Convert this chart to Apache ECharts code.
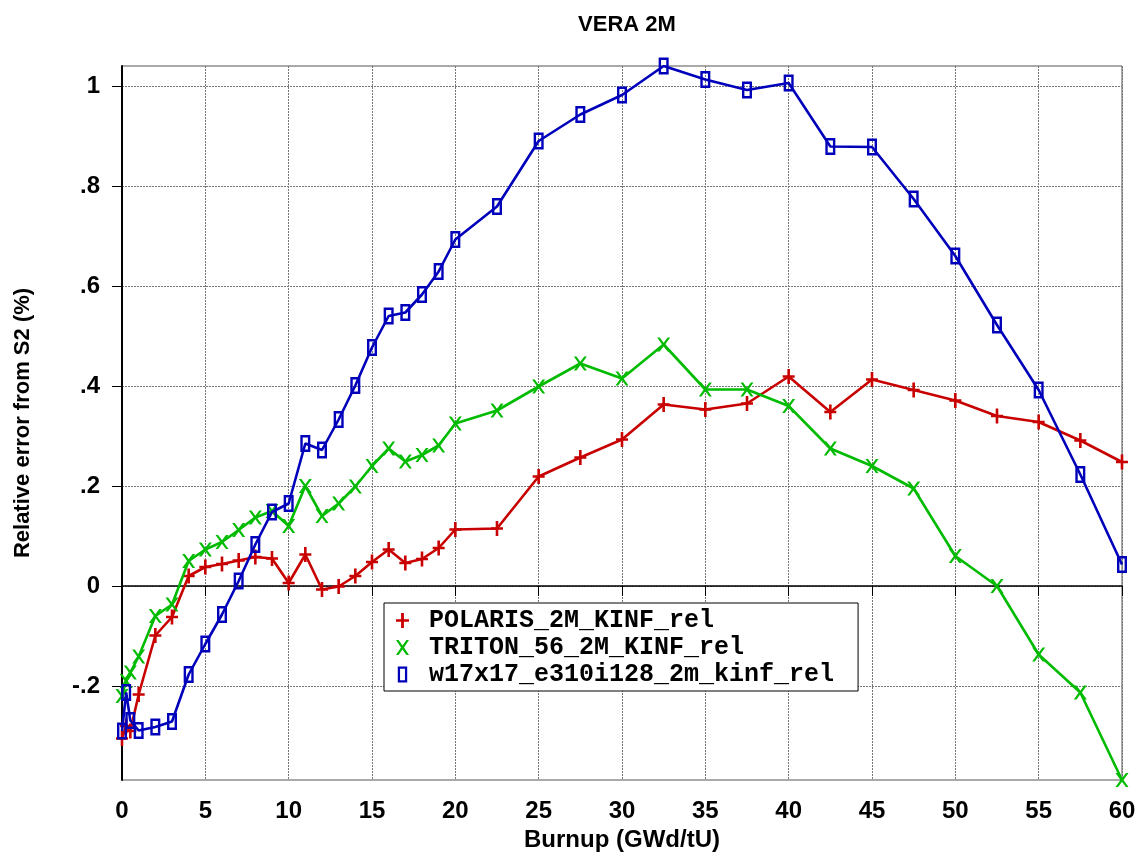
<!DOCTYPE html>
<html>
<head>
<meta charset="utf-8">
<script src="https://cdn.jsdelivr.net/npm/echarts@6/dist/echarts.min.js"></script>
<style>html,body{margin:0;padding:0;background:#fff}#c{width:1142px;height:858px}</style>
</head>
<body>
<div id="c"></div>
<script>
const burnup = [0, 0.25, 0.5, 1, 2, 3, 4, 5, 6, 7, 8, 9, 10, 11, 12, 13, 14, 15, 16, 17, 18, 19, 20,
  22.5, 25, 27.5, 30, 32.5, 35, 37.5, 40, 42.5, 45, 47.5, 50, 52.5, 55, 57.5, 60];
const polaris = [-0.305, -0.28, -0.29, -0.217, -0.099, -0.062, 0.020, 0.038, 0.044, 0.051, 0.058, 0.055, 0.006, 0.063, -0.007, -0.001, 0.020, 0.048, 0.073, 0.046, 0.054, 0.076, 0.113,
  0.115, 0.219, 0.257, 0.293, 0.363, 0.353, 0.365, 0.419, 0.348, 0.413, 0.392, 0.371, 0.340, 0.328, 0.291, 0.248];
const triton = [-0.22, -0.19, -0.173, -0.141, -0.060, -0.037, 0.050, 0.073, 0.088, 0.112, 0.137, 0.150, 0.120, 0.200, 0.140, 0.165, 0.199, 0.240, 0.275, 0.249, 0.262, 0.281, 0.325,
  0.351, 0.399, 0.445, 0.415, 0.483, 0.393, 0.393, 0.360, 0.275, 0.240, 0.195, 0.060, 0.0, -0.137, -0.213, -0.388];
const w17 = [-0.29, -0.213, -0.269, -0.289, -0.282, -0.271, -0.177, -0.116, -0.057, 0.010, 0.083, 0.148, 0.165, 0.285, 0.272, 0.333, 0.401, 0.477, 0.540, 0.547, 0.583, 0.629, 0.693,
  0.759, 0.890, 0.943, 0.982, 1.040, 1.013, 0.992, 1.006, 0.879, 0.878, 0.774, 0.660, 0.522, 0.392, 0.223, 0.043];
const seriesNames = ['POLARIS_2M_KINF_rel', 'TRITON_56_2M_KINF_rel', 'w17x17_e310i128_2m_kinf_rel'];
const xTicks = [0, 5, 10, 15, 20, 25, 30, 35, 40, 45, 50, 55, 60];
const yTickVals = [-0.2, 0, 0.2, 0.4, 0.6, 0.8, 1];
const yTickLabels = ['-.2', '0', '.2', '.4', '.6', '.8', '1'];

const colors = ['#c80000', '#00bb00', '#0000bb'];
const plusPath = 'path://M-1.3,-7L1.3,-7L1.3,-1.1L6,-1.1L6,1.1L1.3,1.1L1.3,7L-1.3,7L-1.3,1.1L-6,1.1L-6,-1.1L-1.3,-1.1Z';
const xPath = 'path://M-6,-7L-3.6,-7L0,-1.8L3.6,-7L6,-7L1.4,0L6,7L3.6,7L0,1.8L-3.6,7L-6,7L-1.4,0Z';
const boxPath = 'path://M-5,-8.5L5,-8.5L5,8.5L-5,8.5Z M-2.6,-6.1L-2.6,6.1L2.6,6.1L2.6,-6.1Z';
const symbols = [plusPath, xPath, boxPath];
const symSizes = [[12, 15], [13, 14], [10, 17]];
const allVals = [polaris, triton, w17];
const yMin = Math.min(...allVals.flat());
const yMax = Math.max(...allVals.flat());

const font = "'Liberation Sans Narrow', 'Liberation Sans', Arial, sans-serif";
const chart = echarts.init(document.getElementById('c'));
const series = allVals.map((vals, k) => ({
  name: seriesNames[k],
  type: 'line',
  data: burnup.map((x, i) => [x, vals[i]]),
  symbol: symbols[k],
  symbolSize: symSizes[k],
  showAllSymbol: true,
  lineStyle: { color: colors[k], width: 2.6 },
  itemStyle: { color: colors[k] },
  emphasis: { disabled: true },
  animation: false,
  z: 3 + k
}));

chart.setOption({
  animation: false,
  backgroundColor: '#fff',
  title: {
    text: 'VERA 2M', left: 622, top: 9, textAlign: 'center',
    textStyle: { fontFamily: font, fontSize: 22, fontWeight: 'bold', color: '#000' }
  },
  grid: { left: 122, right: 20, top: 66, bottom: 78, show: true, borderColor: '#555', borderWidth: 1, backgroundColor: 'transparent' },
  legend: {
    left: 384, top: 603, orient: 'vertical',
    backgroundColor: '#fff', borderColor: '#000', borderWidth: 1,
    padding: [5, 24, 4, 12], itemGap: 2, itemWidth: 13, itemHeight: 16,
    textStyle: { fontFamily: "'Liberation Mono', 'Courier New', monospace", fontWeight: 'bold', fontSize: 25, color: '#000', padding: [0, 0, 0, 15], lineHeight: 20 },
    data: seriesNames.map((n, k) => ({ name: n, icon: symbols[k] })),
    selectedMode: false
  },
  xAxis: [{
    type: 'value', min: 0, max: 60, interval: 5, position: 'bottom',
    axisLine: { show: false, onZero: false },
    axisTick: { show: false },
    axisLabel: { fontFamily: font, fontSize: 24, fontWeight: 'bold', color: '#000', margin: 19,
      customValues: xTicks },
    splitLine: { show: true, lineStyle: { color: '#777', width: 1, type: [2, 1] } },
    name: 'Burnup (GWd/tU)', nameLocation: 'middle', nameGap: 43,
    nameTextStyle: { fontFamily: font, fontSize: 24, fontWeight: 'bold', color: '#000' }
  }, {
    type: 'value', min: 0, max: 60, interval: 5, position: 'bottom',
    axisLine: { show: true, onZero: true, lineStyle: { color: '#000', width: 1.5 } },
    axisTick: { show: true, inside: false, length: 10, lineStyle: { color: '#000', width: 1 } },
    axisLabel: { show: false },
    splitLine: { show: false }
  }],
  yAxis: {
    type: 'value', min: yMin, max: yMax,
    axisLine: { show: true, onZero: false, lineStyle: { color: '#000', width: 2 } },
    axisTick: { show: true, length: 10, lineStyle: { color: '#000', width: 1 }, customValues: yTickVals },
    axisLabel: { fontFamily: font, fontSize: 24, fontWeight: 'bold', color: '#000', margin: 22,
      customValues: yTickVals,
      formatter: v => { const i = yTickVals.findIndex(t => Math.abs(t - v) < 1e-6); return i >= 0 ? yTickLabels[i] : ''; } },
    splitLine: { show: true, lineStyle: { color: '#777', width: 1, type: [2, 1] } },
    name: 'Relative error from S2 (%)', nameLocation: 'middle', nameGap: 88,
    nameTextStyle: { fontFamily: font, fontSize: 22, fontWeight: 'bold', color: '#000' }
  },
  series: series
});
</script>
</body>
</html>
